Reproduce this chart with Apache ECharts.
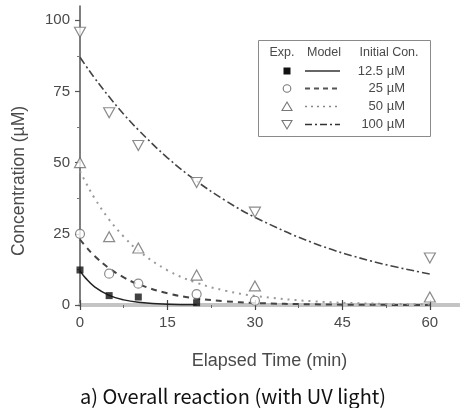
<!DOCTYPE html>
<html>
<head>
<meta charset="utf-8">
<script src="https://cdn.jsdelivr.net/npm/echarts@6/dist/echarts.min.js"></script>
<style>html,body{margin:0;padding:0;background:#fff;}#c{width:460px;height:408px;}</style>
</head>
<body>
<div id="c"></div>
<script>
// Data
var seriesNames = ['12.5 \u00b5M', '25 \u00b5M', '50 \u00b5M', '100 \u00b5M'];
var tExp12 = [0, 5, 10, 20];
var exp12 = [12.3, 3.3, 2.8, 0.8];
var tExp25 = [0, 5, 10, 20, 30];
var exp25 = [25, 11, 7.5, 3.8, 1.5];
var tExp50 = [0, 5, 10, 20, 30, 60];
var exp50 = [50, 24, 20, 10.5, 6.7, 2.8];
var tExp100 = [0, 5, 10, 20, 30, 60];
var exp100 = [95.8, 67.5, 56, 43, 32.6, 16.5];

var tModel = [0, 1, 2.5, 5, 7.5, 10, 15, 20, 25, 30, 40, 50, 60];
var model12 = [12, 9.35, 6.4, 3.4, 1.8, 1.0, 0.28, 0.08];
var model25 = [23, 20.5, 17.2, 12.9, 9.7, 7.3, 4.1, 2.3, 1.3, 0.7, 0.23, 0.07, 0.02];
var model50 = [47, 43, 37.5, 30, 24, 19.1, 12.2, 7.8, 5.0, 3.2, 1.3, 0.5, 0.2];
var model100 = [87, 84, 79.7, 73.1, 67, 61.5, 51.7, 43.5, 36.6, 30.8, 21.8, 15.4, 10.9];

var xTicks = [0, 15, 30, 45, 60];
var yTicks = [0, 25, 50, 75, 100];

function pairs(xs, ys) { return ys.map(function (v, i) { return [xs[i], v]; }); }

var downTri = 'path://M0,0 L10,0 L5,9 Z';
var upTri = 'path://M5,0 L10,9 L0,9 Z';
var hollow = { color: '#fff', borderColor: '#6e6e6e', borderWidth: 1.2 };
var FONT = 'Liberation Sans';
var TXT = '#4a4a4a';

var chart = echarts.init(document.getElementById('c'));

var legendRowsY = [71, 88.5, 106.5, 124.5];
var lx = 287, lineX1 = 305, lineX2 = 340, labelX = 405;
var legendGraphics = [
  { type: 'rect', shape: { x: 258.5, y: 40.5, width: 172, height: 96 }, style: { fill: '#fff', stroke: '#8a8a8a', lineWidth: 1 }, z: 50 },
  { type: 'text', x: 282, y: 53, style: { text: 'Exp.', fontSize: 12.5, fontFamily: FONT, fill: TXT, align: 'center', verticalAlign: 'middle' }, z: 51 },
  { type: 'text', x: 324, y: 53, style: { text: 'Model', fontSize: 12.5, fontFamily: FONT, fill: TXT, align: 'center', verticalAlign: 'middle' }, z: 51 },
  { type: 'text', x: 389, y: 53, style: { text: 'Initial Con.', fontSize: 12.5, fontFamily: FONT, fill: TXT, align: 'center', verticalAlign: 'middle' }, z: 51 },
  // symbols
  { type: 'rect', shape: { x: lx - 3.5, y: legendRowsY[0] - 3.5, width: 7, height: 7 }, style: { fill: '#111' }, z: 51 },
  { type: 'circle', shape: { cx: lx, cy: legendRowsY[1], r: 3.8 }, style: { fill: '#fff', stroke: '#777', lineWidth: 1.1 }, z: 51 },
  { type: 'polygon', shape: { points: [[lx, legendRowsY[2] - 4.5], [lx + 5, legendRowsY[2] + 4], [lx - 5, legendRowsY[2] + 4]] }, style: { fill: '#fff', stroke: '#777', lineWidth: 1.1 }, z: 51 },
  { type: 'polygon', shape: { points: [[lx - 5, legendRowsY[3] - 4], [lx + 5, legendRowsY[3] - 4], [lx, legendRowsY[3] + 4.5]] }, style: { fill: '#fff', stroke: '#777', lineWidth: 1.1 }, z: 51 },
  // lines
  { type: 'line', shape: { x1: lineX1, y1: legendRowsY[0], x2: lineX2, y2: legendRowsY[0] }, style: { stroke: '#333', lineWidth: 1.5 }, z: 51 },
  { type: 'line', shape: { x1: lineX1, y1: legendRowsY[1], x2: lineX2, y2: legendRowsY[1] }, style: { stroke: '#555', lineWidth: 1.8, lineDash: [5, 4] }, z: 51 },
  { type: 'line', shape: { x1: lineX1, y1: legendRowsY[2], x2: lineX2, y2: legendRowsY[2] }, style: { stroke: '#888', lineWidth: 1.5, lineDash: [2, 4] }, z: 51 },
  { type: 'line', shape: { x1: lineX1, y1: legendRowsY[3], x2: lineX2, y2: legendRowsY[3] }, style: { stroke: '#333', lineWidth: 1.5, lineDash: [7, 3, 2, 3] }, z: 51 }
];
seriesNames.forEach(function (n, i) {
  legendGraphics.push({ type: 'text', x: labelX, y: legendRowsY[i], style: { text: n, fontSize: 13, fontFamily: FONT, fill: TXT, align: 'right', verticalAlign: 'middle' }, z: 51 });
});

var xAxisCommon = {
  type: 'value', min: 0, max: 65, interval: 15, gridIndex: 0,
  splitLine: { show: false }
};

var option = {
  animation: false,
  backgroundColor: '#fff',
  grid: { left: 80, right: 1, top: 6, bottom: 103 },
  xAxis: [
    Object.assign({}, xAxisCommon, {
      name: 'Elapsed Time (min)', nameLocation: 'middle', nameGap: 47,
      nameTextStyle: { fontSize: 18, color: TXT, fontFamily: FONT },
      axisLine: { show: true, lineStyle: { color: '#c4c4c4', width: 4 } },
      axisTick: { show: true, inside: false, length: 5, lineStyle: { color: '#444', width: 1.2 },
        customValues: xTicks },
      minorTick: { show: true, splitNumber: 2, length: 3, lineStyle: { color: '#666', width: 1 } },
      axisLabel: { color: TXT, fontSize: 15, margin: 10, fontFamily: FONT, customValues: xTicks,
        formatter: function (v) { return xTicks.indexOf(v) >= 0 ? String(v) : ''; } }
    }),
    Object.assign({}, xAxisCommon, {
      position: 'bottom',
      axisLine: { show: false },
      axisTick: { show: true, inside: true, length: 5, lineStyle: { color: '#444', width: 1.2 }, customValues: xTicks },
      axisLabel: { show: false }
    })
  ],
  yAxis: {
    type: 'value', min: 0, max: 105, interval: 25,
    splitLine: { show: false },
    axisLine: { show: true, lineStyle: { color: '#555', width: 1.5 } },
    axisTick: { show: true, length: 5, lineStyle: { color: '#555', width: 1.2 }, customValues: yTicks },
    minorTick: { show: true, splitNumber: 2, length: 3, lineStyle: { color: '#777', width: 1 } },
    axisLabel: { color: TXT, fontSize: 15, margin: 10, fontFamily: FONT, customValues: yTicks,
      formatter: function (v) { return yTicks.indexOf(v) >= 0 ? String(v) : ''; } }
  },
  graphic: [
    { type: 'text', x: 19, y: 181, rotation: Math.PI / 2,
      style: { text: 'Concentration (\u00b5M)', fontSize: 17.5, fontFamily: FONT, fill: TXT, align: 'center', verticalAlign: 'middle' } },
    { type: 'text', x: 233, y: 396,
      style: { text: 'a) Overall reaction (with UV light)', fontSize: 20, fontFamily: 'Noto Sans CJK KR', fill: '#111', align: 'center', verticalAlign: 'middle' } }
  ].concat(legendGraphics),
  series: [
    { name: seriesNames[0], type: 'line', smooth: 0.4, showSymbol: false, data: pairs(tModel, model12),
      lineStyle: { color: '#222', width: 1.5 }, z: 3 },
    { name: seriesNames[1], type: 'line', smooth: 0.4, showSymbol: false, data: pairs(tModel, model25),
      lineStyle: { color: '#444', width: 2, type: [6, 5] }, z: 3 },
    { name: seriesNames[2], type: 'line', smooth: 0.4, showSymbol: false, data: pairs(tModel, model50),
      lineStyle: { color: '#999', width: 2, type: [2, 5] }, z: 3 },
    { name: seriesNames[3], type: 'line', smooth: 0.4, showSymbol: false, data: pairs(tModel, model100),
      lineStyle: { color: '#444', width: 1.6, type: [8, 3, 2, 3] }, z: 3 },
    { name: seriesNames[0] + ' exp', type: 'scatter', symbol: 'rect', symbolSize: 7, data: pairs(tExp12, exp12),
      itemStyle: { color: '#111' }, z: 4 },
    { name: seriesNames[1] + ' exp', type: 'scatter', symbol: 'circle', symbolSize: 9, data: pairs(tExp25, exp25),
      itemStyle: hollow, z: 4 },
    { name: seriesNames[2] + ' exp', type: 'scatter', symbol: upTri, symbolSize: [11, 10], data: pairs(tExp50, exp50),
      itemStyle: hollow, z: 4 },
    { name: seriesNames[3] + ' exp', type: 'scatter', symbol: downTri, symbolSize: [11, 10], data: pairs(tExp100, exp100),
      itemStyle: hollow, z: 4 }
  ]
};
chart.setOption(option);
</script>
</body>
</html>
